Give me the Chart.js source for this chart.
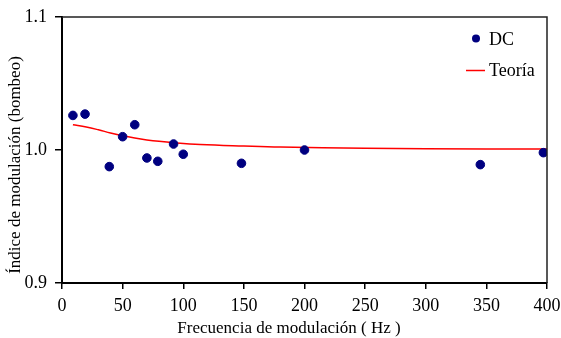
<!DOCTYPE html>
<html>
<head>
<meta charset="utf-8">
<script src="https://cdn.jsdelivr.net/npm/chart.js@4/dist/chart.umd.min.js"></script>
<style>
html,body{margin:0;padding:0;background:#fff;}
#wrap{width:561px;height:338px;position:relative;}
</style>
</head>
<body>
<div id="wrap"><canvas id="c" width="561" height="338"></canvas></div>
<script>
// Data
const dcFreq = [9, 19, 39, 50, 60, 70, 79, 92, 100, 148, 200, 345, 397];
const dcIndex = [1.026, 1.027, 0.9875, 1.010, 1.019, 0.994, 0.9915, 1.0045, 0.9968, 0.990, 1.000, 0.989, 0.998];
const theoryFreq = [9, 20, 30, 40, 50, 60, 70, 80, 92, 114, 150, 180, 250, 300, 400];
const theoryIndex = [1.019, 1.0173, 1.0152, 1.0128, 1.0107, 1.009, 1.0076, 1.0065, 1.0055, 1.0042, 1.003, 1.0022, 1.0013, 1.001, 1.0007];
const xTicks = [0, 50, 100, 150, 200, 250, 300, 350, 400];
const yTicks = [0.9, 1.0, 1.1];
const seriesLabels = ['DC', 'Teoría'];
const xTitle = 'Frecuencia de modulación ( Hz )';
const yTitle = 'Índice de modulación (bombeo)';

const FONT = '"Liberation Serif", "Times New Roman", serif';

const framePlugin = {
  id: 'frameAndText',
  afterDraw(chart) {
    const {ctx, chartArea: a} = chart;
    ctx.save();
    // top and right frame
    ctx.strokeStyle = '#222';
    ctx.lineWidth = 1.5;
    ctx.beginPath();
    ctx.moveTo(a.left, a.top);
    ctx.lineTo(a.right, a.top);
    ctx.lineTo(a.right, a.bottom);
    ctx.stroke();
    // legend
    ctx.fillStyle = '#000080';
    ctx.beginPath();
    ctx.arc(476, 38.5, 4, 0, Math.PI * 2);
    ctx.fill();
    ctx.strokeStyle = '#ff0000';
    ctx.lineWidth = 1.5;
    ctx.beginPath();
    ctx.moveTo(466, 70.5);
    ctx.lineTo(485, 70.5);
    ctx.stroke();
    ctx.fillStyle = '#000';
    ctx.font = '18px ' + FONT;
    ctx.textAlign = 'left';
    ctx.textBaseline = 'alphabetic';
    ctx.fillText(chart.data.datasets[0].label, 489, 44.5);
    ctx.fillText(chart.data.datasets[1].label, 489, 76);
    // axis titles
    ctx.font = '17px ' + FONT;
    ctx.textAlign = 'center';
    ctx.fillText(xTitle, 289, 333);
    ctx.translate(20, 165);
    ctx.rotate(-Math.PI / 2);
    ctx.fillText(yTitle, 0, 0);
    ctx.restore();
  }
};

new Chart(document.getElementById('c'), {
  type: 'scatter',
  data: {
    datasets: [
      {
        label: seriesLabels[0],
        data: dcFreq.map((x, i) => ({x, y: dcIndex[i]})),
        backgroundColor: '#000080',
        borderColor: '#000080',
        pointRadius: 4.3,
        pointHoverRadius: 4.3,
        order: 1
      },
      {
        label: seriesLabels[1],
        type: 'line',
        data: theoryFreq.map((x, i) => ({x, y: theoryIndex[i]})),
        borderColor: '#ff0000',
        borderWidth: 1.5,
        pointRadius: 0,
        fill: false,
        tension: 0.4,
        order: 2
      }
    ]
  },
  options: {
    responsive: false,
    animation: false,
    events: [],
    layout: {padding: {top: 17, right: 14, left: 0, bottom: 0}},
    plugins: {legend: {display: false}, tooltip: {enabled: false}},
    scales: {
      x: {
        type: 'linear',
        min: 0, max: 400,
        afterBuildTicks(s) { s.ticks = xTicks.map(v => ({value: v})); },
        afterFit(s) { s.height = 55; s.paddingRight = 0; s.paddingLeft = 0; },
        grid: {display: true, drawOnChartArea: false, drawTicks: true, tickLength: 6, color: '#000', lineWidth: 1.5},
        border: {display: true, color: '#000', width: 2},
        ticks: {color: '#000', font: {family: FONT, size: 18}, padding: 6, maxRotation: 0}
      },
      y: {
        type: 'linear',
        min: 0.9, max: 1.1,
        afterBuildTicks(s) { s.ticks = yTicks.map(v => ({value: v})); },
        afterFit(s) { s.width = 62; s.paddingTop = 0; s.paddingBottom = 0; },
        grid: {display: true, drawOnChartArea: false, drawTicks: true, tickLength: 7, color: '#000', lineWidth: 1.5},
        border: {display: true, color: '#000', width: 2},
        ticks: {color: '#000', font: {family: FONT, size: 18}, padding: 8, callback: v => v.toFixed(1)}
      }
    }
  },
  plugins: [framePlugin]
});
</script>
</body>
</html>
